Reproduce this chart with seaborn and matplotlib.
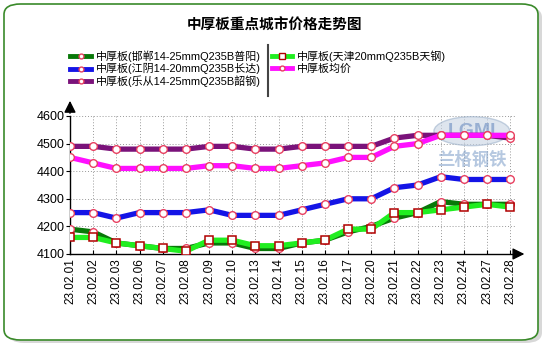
import matplotlib
matplotlib.use("Agg")
import matplotlib.pyplot as plt
import seaborn as sns
import pandas as pd
from matplotlib.patches import FancyBboxPatch, Ellipse
from matplotlib.lines import Line2D

dates = ["23.02.01", "23.02.02", "23.02.03", "23.02.06", "23.02.07", "23.02.08", "23.02.09",
         "23.02.10", "23.02.13", "23.02.14", "23.02.15", "23.02.16", "23.02.17", "23.02.20",
         "23.02.21", "23.02.22", "23.02.23", "23.02.24", "23.02.27", "23.02.28"]

handan = [4190, 4180, 4140, 4130, 4120, 4120, 4140, 4140, 4120, 4120,
          4140, 4150, 4180, 4200, 4230, 4250, 4290, 4280, 4280, 4280]
jiangyin = [4250, 4250, 4230, 4250, 4250, 4250, 4260, 4240, 4240, 4240,
            4260, 4280, 4300, 4300, 4340, 4350, 4380, 4370, 4370, 4370]
lecong = [4490, 4490, 4480, 4480, 4480, 4480, 4490, 4490, 4480, 4480,
          4490, 4490, 4490, 4490, 4520, 4530, 4530, 4530, 4530, 4520]
tianjin = [4160, 4160, 4140, 4130, 4120, 4110, 4150, 4150, 4130, 4130,
           4140, 4150, 4190, 4190, 4250, 4250, 4260, 4270, 4280, 4270]
average = [4450, 4430, 4410, 4410, 4410, 4410, 4420, 4420, 4410, 4410,
           4420, 4430, 4450, 4450, 4490, 4500, 4530, 4530, 4530, 4530]

names = ["中厚板(邯郸14-25mmQ235B普阳)", "中厚板(江阴14-20mmQ235B长达)",
         "中厚板(乐从14-25mmQ235B韶钢)", "中厚板(天津20mmQ235B天钢)", "中厚板均价"]
series = [handan, jiangyin, lecong, tianjin, average]
colors = ["#087808", "#1414e6", "#7a127a", "#20ee20", "#ff10ff"]
markers = ["o", "o", "o", "s", "o"]

title = "中厚板重点城市价格走势图"
yticks = [4100, 4200, 4300, 4400, 4500, 4600]

plt.rcParams['font.family'] = ['Liberation Sans', 'Noto Sans CJK SC', 'DejaVu Sans']

fig = plt.figure(figsize=(5.5, 3.5), dpi=100)
fig.patch.set_facecolor("white")

# rounded border with shadow
shadow = FancyBboxPatch((8 / 550, 1 - 343 / 350), 534 / 550, 336 / 350,
                        boxstyle="round,pad=0,rounding_size=0.03",
                        transform=fig.transFigure, facecolor="#d8d8d8", edgecolor="none",
                        zorder=-3)
fig.patches.append(shadow)
border = FancyBboxPatch((4 / 550, 1 - 340 / 350), 534 / 550, 336 / 350,
                        boxstyle="round,pad=0,rounding_size=0.03",
                        transform=fig.transFigure, facecolor="white", edgecolor="#3a8a2a",
                        linewidth=1.2, zorder=-2)
fig.patches.append(border)

ax = fig.add_axes([70 / 550, 1 - 254 / 350, (516 - 70) / 550, (254 - 116) / 350])
ax.set_facecolor("none")
ax.set_zorder(1)

rows = []
for n, s in zip(names, series):
    for i, (d, v) in enumerate(zip(dates, s)):
        rows.append({"series": n, "x": i, "value": v})
df = pd.DataFrame(rows)

for n, c, m in zip(names, colors, markers):
    sub = df[df["series"] == n]
    if m == "s":
        sns.lineplot(data=sub, x="x", y="value", ax=ax, color=c, linewidth=3.8,
                     marker="s", markersize=6, markerfacecolor="white",
                     markeredgecolor="#b00000", markeredgewidth=1.1, zorder=3)
    else:
        sns.lineplot(data=sub, x="x", y="value", ax=ax, color=c, linewidth=3.8,
                     marker="o", markersize=5.5, markerfacecolor="white",
                     markeredgecolor="#e84060", markeredgewidth=1.0, zorder=3)

ax.set_xlim(0, 19.25)
ax.set_ylim(4100, 4600)
ax.set_yticks(yticks)
ax.set_yticklabels([str(t) for t in yticks], fontsize=9)
ax.set_xticks(range(len(dates)))
ax.set_xticklabels(dates, rotation=90, fontsize=8.5)
ax.set_xlabel("")
ax.set_ylabel("")
ax.grid(True, color="#999999", linestyle=(0, (1, 2)), linewidth=0.7)
ax.set_axisbelow(True)
for sp in ["top", "right"]:
    ax.spines[sp].set_visible(False)
for sp in ["left", "bottom"]:
    ax.spines[sp].set_color("black")
    ax.spines[sp].set_linewidth(1.0)
ax.tick_params(axis="y", length=3, pad=1, color="black")
ax.tick_params(axis="x", length=3, pad=3, direction="in", color="black")
if ax.get_legend():
    ax.get_legend().remove()

# axis arrows
ax.annotate("", xy=(0, 1.13), xytext=(0, 1.0), xycoords="axes fraction",
            arrowprops=dict(arrowstyle="-|>,head_width=0.35,head_length=0.7",
                            color="black", lw=1.0), annotation_clip=False)
ax.annotate("", xy=(1.025, 0), xytext=(1.0, 0), xycoords="axes fraction",
            arrowprops=dict(arrowstyle="-|>,head_width=0.35,head_length=0.7",
                            color="black", lw=1.0), annotation_clip=False)

# watermark logo
ax.add_patch(Ellipse((0.901, 0.89), 0.17, 0.21, transform=ax.transAxes,
                     facecolor="#c8d4e4", edgecolor="#a0b4cc", alpha=0.6, zorder=1,
                     clip_on=False))
ax.text(0.901, 0.89, "LGMI", transform=ax.transAxes, fontsize=14, color="#6a8cc0",
        alpha=0.6, ha="center", va="center", fontweight="bold", zorder=1.1)
ax.text(0.901, 0.68, "兰格钢铁", transform=ax.transAxes, fontsize=12.5, color="#7a9cc8",
        alpha=0.55, ha="center", va="center", fontweight="bold",
        family=["Noto Sans CJK SC"], zorder=1)

fig.text(0.5, 1 - 25 / 350, title, ha="center", va="center", fontsize=10.5,
         fontweight="bold", family=["Noto Sans CJK SC"])

handles = []
for c, m in zip(colors, markers):
    if m == "s":
        h = Line2D([0], [0], color=c, linewidth=3.5, marker="s", markersize=5,
                   markerfacecolor="white", markeredgecolor="#b00000")
    else:
        h = Line2D([0], [0], color=c, linewidth=3.5, marker="o", markersize=3.5,
                   markerfacecolor="white", markeredgecolor="#e84060")
    handles.append(h)
leg = fig.legend(handles, names, ncol=2, loc="upper left",
                 bbox_to_anchor=(66 / 550, 1 - 46 / 350), frameon=False,
                 handlelength=1.9, handletextpad=0.4,
                 columnspacing=1.0, labelspacing=0.12, borderaxespad=0,
                 prop={"family": ["Liberation Sans", "Noto Sans CJK SC"], "size": 7.9})

fig.add_artist(Line2D([268 / 550, 268 / 550], [1 - 45 / 350, 1 - 96 / 350],
                      transform=fig.transFigure, color="#444444", linewidth=1.5))

fig.savefig("out.png", dpi=100)
